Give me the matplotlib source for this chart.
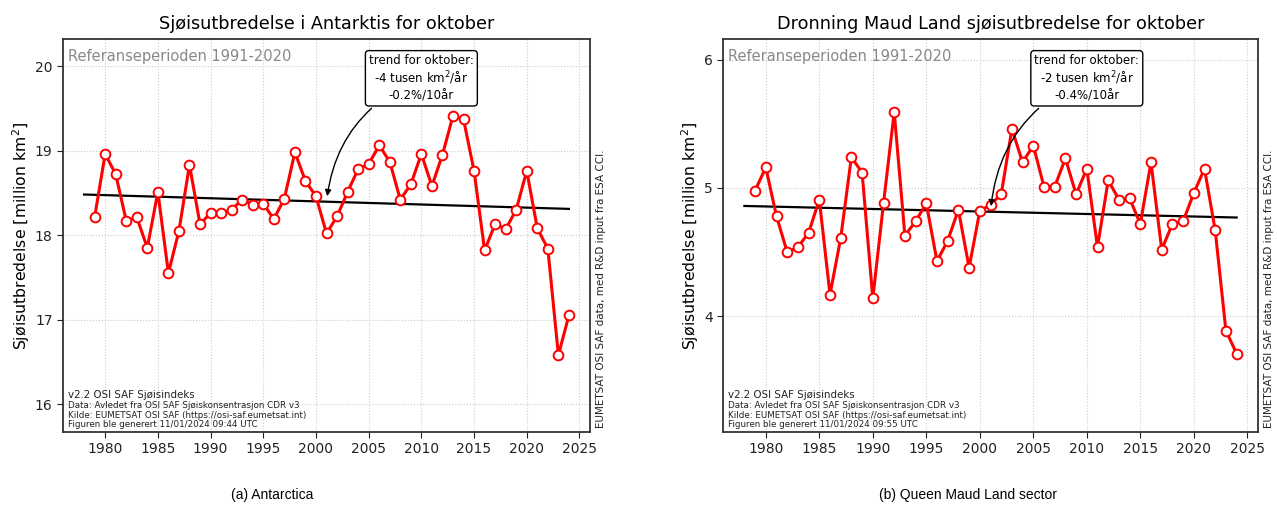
import numpy as np
import matplotlib
matplotlib.use('Agg')
import matplotlib.pyplot as plt

# Årstall og sjøisutbredelse i oktober (million km2), lest av figuren
years = list(range(1979, 2025))

antarktis = [18.21, 18.96, 18.72, 18.17, 18.21, 17.85, 18.51, 17.55, 18.05, 18.83,
             18.13, 18.26, 18.26, 18.30, 18.42, 18.36, 18.37, 18.19, 18.43, 18.98,
             18.64, 18.46, 18.02, 18.22, 18.51, 18.78, 18.84, 19.06, 18.87, 18.42,
             18.60, 18.96, 18.58, 18.95, 19.41, 19.37, 18.76, 17.82, 18.13, 18.07,
             18.30, 18.76, 18.08, 17.84, 16.58, 17.05]

dronning_maud = [4.98, 5.16, 4.78, 4.50, 4.54, 4.65, 4.91, 4.17, 4.61, 5.24,
                 5.12, 4.14, 4.88, 5.59, 4.63, 4.74, 4.88, 4.43, 4.59, 4.83,
                 4.38, 4.82, 4.87, 4.95, 5.46, 5.20, 5.33, 5.01, 5.01, 5.23,
                 4.95, 5.15, 4.54, 5.06, 4.91, 4.92, 4.72, 5.20, 4.52, 4.72,
                 4.74, 4.96, 5.15, 4.67, 3.89, 3.71]

# Trendlinje (endepunkter)
trend_years = [1978, 2024]
trend_ant = [18.48, 18.31]
trend_dml = [4.86, 4.77]

titles = ['Sjøisutbredelse i Antarktis for oktober',
          'Dronning Maud Land sjøisutbredelse for oktober']
trend_texts = ['trend for oktober:\n-4 tusen km$^2$/år\n-0.2%/10år',
               'trend for oktober:\n-2 tusen km$^2$/år\n-0.4%/10år']
tider = ['09:44', '09:55']
ylims = [(15.67, 20.32), (3.10, 6.16)]
yticks = [[16, 17, 18, 19, 20], [4, 5, 6]]
captions = ['(a) Antarctica', '(b) Queen Maud Land sector']

fig = plt.figure(figsize=(12.77, 5.08), dpi=100)
ax1 = fig.add_axes([63 / 1277, 76 / 508, 527 / 1277, 393 / 508])
ax2 = fig.add_axes([723 / 1277, 76 / 508, 535 / 1277, 393 / 508])

spine_col = '#333333'
txt_col = '#222222'

for i, (ax, data, trend) in enumerate(zip([ax1, ax2], [antarktis, dronning_maud], [trend_ant, trend_dml])):
    ax.plot(years, data, color='red', lw=2.2, marker='o', ms=7,
            mfc='white', mec='red', mew=1.4, zorder=3)
    ax.plot(trend_years, trend, color='black', lw=1.6, zorder=2)

    ax.set_xlim(1976, 2026)
    ax.set_ylim(*ylims[i])
    ax.set_xticks(range(1980, 2026, 5))
    ax.set_yticks(yticks[i])
    ax.tick_params(labelsize=10, colors=txt_col, length=4)
    ax.grid(True, ls=':', color='#cccccc', lw=0.8)
    for s in ax.spines.values():
        s.set_color(spine_col)
        s.set_linewidth(1.3)

    ax.set_title(titles[i], fontsize=12.7, pad=7)
    ax.set_ylabel('Sjøisutbredelse [million km$^2$]', fontsize=11.3, labelpad=2)

    ax.text(0.01, 0.975, 'Referanseperioden 1991-2020', transform=ax.transAxes,
            fontsize=10.5, color='#888888', va='top', ha='left')

    # trendboks med pil
    x0 = 2001
    y0 = trend[0] + (trend[1] - trend[0]) * (x0 - trend_years[0]) / (trend_years[1] - trend_years[0])
    ax.annotate(trend_texts[i], xy=(x0, y0), xycoords='data',
                xytext=(0.68, 0.9), textcoords='axes fraction',
                ha='center', va='center', fontsize=8.5,
                bbox=dict(boxstyle='round,pad=0.3', fc='white', ec='black', lw=1),
                arrowprops=dict(arrowstyle='-|>', color='black', lw=1,
                                connectionstyle='arc3,rad=0.3', shrinkB=4,
                                mutation_scale=9),
                zorder=5)

    # kildetekst nede til venstre
    ax.text(0.01, 0.094, 'v2.2 OSI SAF Sjøisindeks', transform=ax.transAxes,
            fontsize=7.4, ha='left', va='center', color=txt_col)
    kilde = ['Data: Avledet fra OSI SAF Sjøiskonsentrasjon CDR v3',
             'Kilde: EUMETSAT OSI SAF (https://osi-saf.eumetsat.int)',
             'Figuren ble generert 11/01/2024 ' + tider[i] + ' UTC']
    for linje, yy in zip(kilde, [0.067, 0.0425, 0.0186]):
        ax.text(0.01, yy, linje, transform=ax.transAxes, fontsize=6.3,
                ha='left', va='center', color=txt_col)

    ax.text(1.012, 0.01, 'EUMETSAT OSI SAF data, med R&D input fra ESA CCI.',
            transform=ax.transAxes, rotation=90, fontsize=7.5,
            ha='left', va='bottom', color=txt_col)

fig.text(272 / 1277, 1 - 495 / 508, captions[0], fontsize=10,
         family='Liberation Sans', ha='center', va='center')
fig.text(968 / 1277, 1 - 495 / 508, captions[1], fontsize=10,
         family='Liberation Sans', ha='center', va='center')

fig.savefig('out.png', dpi=100)
